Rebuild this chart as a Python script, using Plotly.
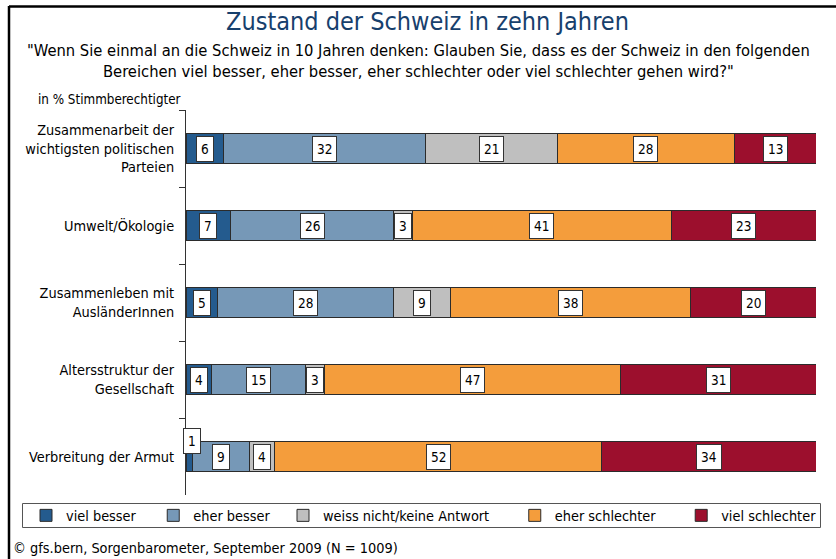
import plotly.graph_objects as go

# Survey topics (top to bottom) and answer shares in percent
topics = [
    "Zusammenarbeit der<br>wichtigsten politischen<br>Parteien",
    "Umwelt/Ökologie",
    "Zusammenleben mit<br>AusländerInnen",
    "Altersstruktur der<br>Gesellschaft",
    "Verbreitung der Armut",
]
series_names = ["viel besser", "eher besser", "weiss nicht/keine Antwort",
                "eher schlechter", "viel schlechter"]
viel_besser = [6, 7, 5, 4, 1]
eher_besser = [32, 26, 28, 15, 9]
weiss_nicht = [21, 3, 9, 3, 4]
eher_schlechter = [28, 41, 38, 47, 52]
viel_schlechter = [13, 23, 20, 31, 34]

series_values = [viel_besser, eher_besser, weiss_nicht, eher_schlechter, viel_schlechter]
colors = ["#245B8E", "#7698B7", "#BFBFBF", "#F49D3C", "#9C0F2D"]
# non-breaking spaces after each legend entry to spread the entries across the box
legend_pad = [3, 2, 5, 5, 0]

W, H = 836, 559
ML, MR, MT, MB = 186, 20, 110, 64
PW, PH = W - ML - MR, H - MT - MB


def px_x(x):
    return (x - ML) / PW


def px_y(y):
    return (H - MB - y) / PH


label_font = "DejaVu Sans Condensed, DejaVu Sans, sans-serif"
narrow_font = "Liberation Sans Narrow, Arial Narrow, DejaVu Sans Condensed, sans-serif"

fig = go.Figure()
for name, vals, col, pad in zip(series_names, series_values, colors, legend_pad):
    fig.add_trace(go.Bar(
        y=topics, x=vals, name=name + "\u00a0" * pad, orientation="h",
        marker=dict(color=col, line=dict(color="#2b2b2b", width=1)),
        width=0.4,
    ))

# Value labels in white boxes, centred on each segment
annotations = []
for i, topic in enumerate(topics):
    start = 0
    for vals in series_values:
        v = vals[i]
        xs, ys = 0, 0
        if v <= 1:
            xs, ys = 3, 16
        annotations.append(dict(
            x=start + v / 2, y=topic, xref="x", yref="y",
            text=str(v), showarrow=False,
            font=dict(family=label_font, size=13.5, color="#000000"),
            bgcolor="#FFFFFF", bordercolor="#333333", borderwidth=1, borderpad=4,
            xshift=xs, yshift=ys,
        ))
        start += v

# Title, question text, unit note and source line
annotations += [
    dict(text="Zustand der Schweiz in zehn Jahren", x=px_x(427), y=px_y(22),
         xref="paper", yref="paper", xanchor="center", yanchor="middle", showarrow=False,
         font=dict(family=narrow_font, size=25, color="#17406D")),
    dict(text="\"Wenn Sie einmal an die Schweiz in 10 Jahren denken: Glauben Sie, dass es der Schweiz in den folgenden<br>"
              "Bereichen viel besser, eher besser, eher schlechter oder viel schlechter gehen wird?\"",
         x=px_x(418), y=px_y(61), xref="paper", yref="paper", xanchor="center", yanchor="middle",
         showarrow=False, align="center",
         font=dict(family=narrow_font, size=16.4, color="#000000")),
    dict(text="in % Stimmberechtigter", x=px_x(36), y=px_y(99), xref="paper", yref="paper",
         xanchor="left", yanchor="middle", showarrow=False,
         font=dict(family=narrow_font, size=13.3, color="#000000")),
    dict(text="© gfs.bern, Sorgenbarometer, September 2009 (N = 1009)", x=px_x(11), y=px_y(548),
         xref="paper", yref="paper", xanchor="left", yanchor="middle", showarrow=False,
         font=dict(family=label_font, size=14.4, color="#000000")),
]

shapes = [
    # outer frame (top and left edges)
    dict(type="line", xref="paper", yref="paper", x0=px_x(9), x1=px_x(840), y0=px_y(6.5), y1=px_y(6.5),
         line=dict(color="#000000", width=2.5)),
    dict(type="line", xref="paper", yref="paper", x0=px_x(9), x1=px_x(9), y0=px_y(6), y1=px_y(565),
         line=dict(color="#000000", width=2.5)),
    # legend box
    dict(type="rect", xref="paper", yref="paper", x0=px_x(22.5), x1=px_x(820.5), y0=px_y(503.5), y1=px_y(527.5),
         line=dict(color="#555555", width=1), fillcolor="rgba(0,0,0,0)"),
]

fig.update_layout(
    width=W, height=H,
    margin=dict(l=ML, r=MR, t=MT, b=MB, autoexpand=False),
    paper_bgcolor="#FFFFFF", plot_bgcolor="#FFFFFF",
    barmode="stack",
    showlegend=True,
    legend=dict(orientation="h", xref="paper", yref="paper",
                x=px_x(26), xanchor="left", y=px_y(515.5), yanchor="middle",
                font=dict(family=label_font, size=14.4, color="#000000"),
                itemwidth=30, traceorder="normal", bgcolor="rgba(0,0,0,0)"),
    xaxis=dict(range=[0, 100], visible=False, fixedrange=True),
    yaxis=dict(categoryorder="array", categoryarray=topics, autorange="reversed",
               tickson="boundaries", ticks="outside", ticklen=6, tickcolor="#333333",
               showline=True, linecolor="#333333", linewidth=1, showgrid=False,
               tickfont=dict(family=label_font, size=14.4, color="#000000"),
               ticklabelstandoff=8),
    annotations=annotations,
    shapes=shapes,
)

fig.write_html("out.html")
